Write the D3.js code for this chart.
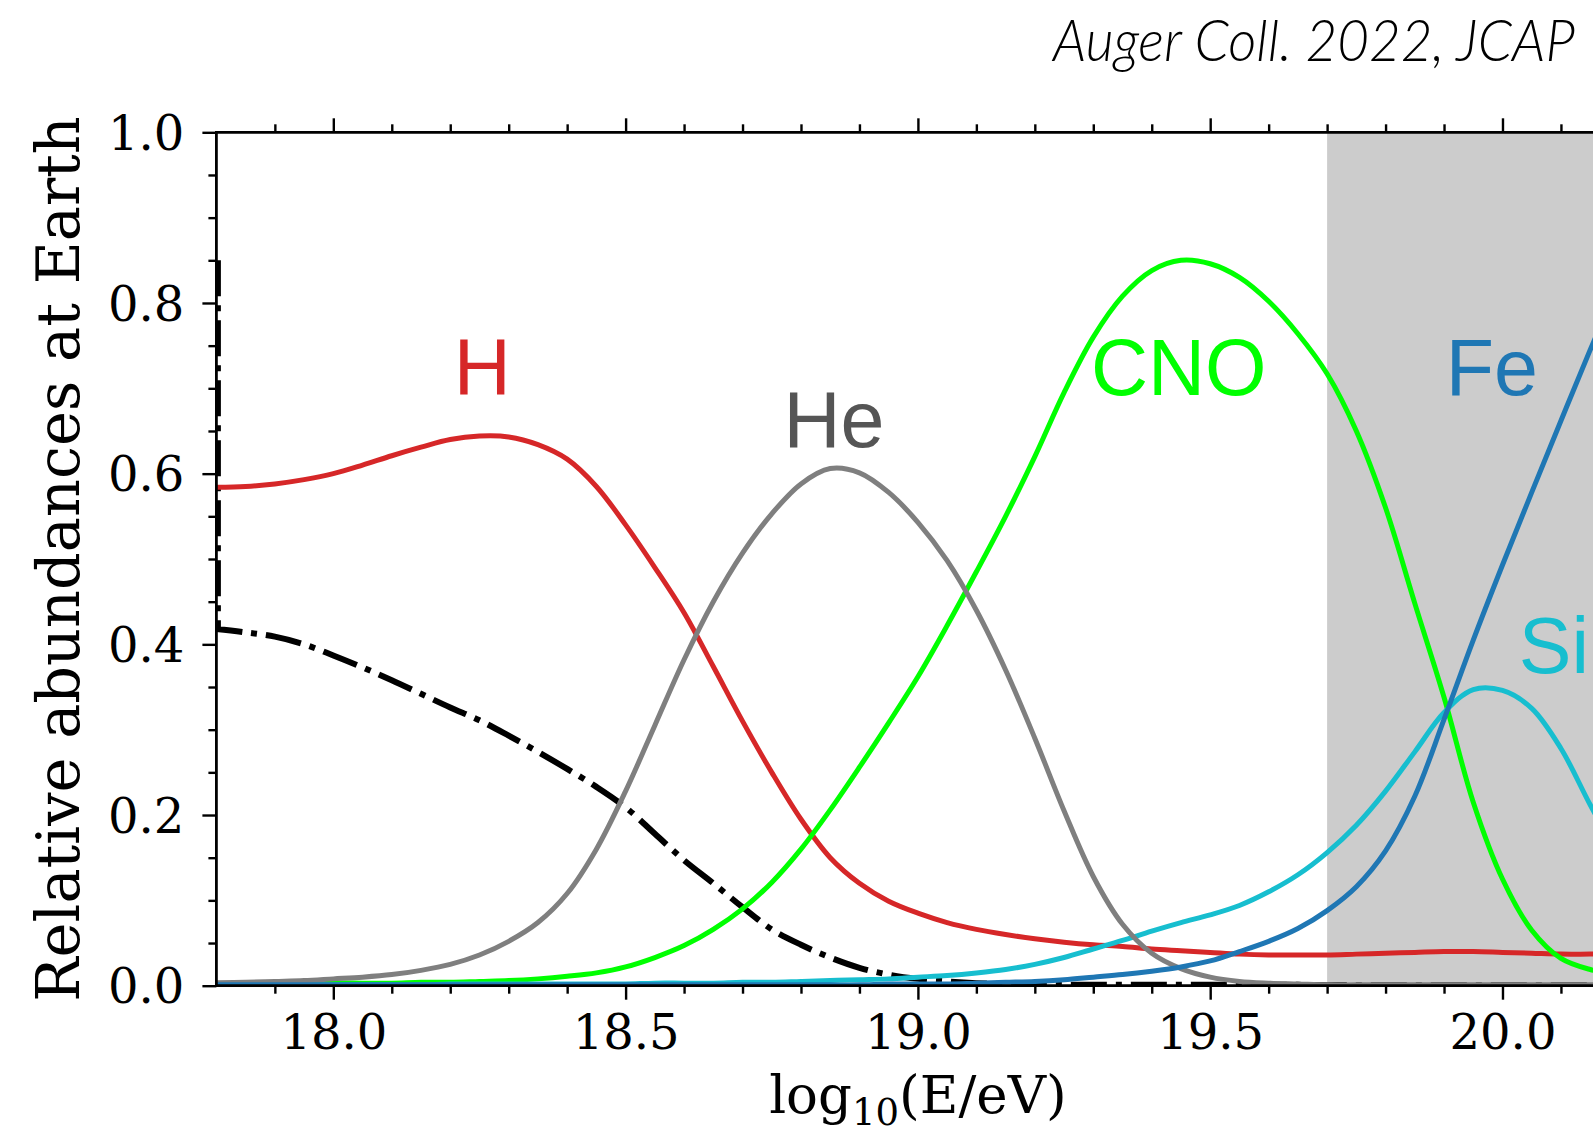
<!DOCTYPE html>
<html>
<head>
<meta charset="utf-8">
<script src="https://cdn.jsdelivr.net/npm/d3@7"></script>
<style>
  html, body { margin: 0; padding: 0; background: #ffffff; }
  svg { display: block; }
</style>
</head>
<body>
<svg id="chart" width="1593" height="1133"></svg>
<script>
// Energy grid, log10(E/eV)
const energies = [
  17.80, 17.85, 17.90, 17.95, 18.00, 18.05, 18.10, 18.15, 18.20, 18.25,
  18.30, 18.35, 18.40, 18.45, 18.50, 18.55, 18.60, 18.65, 18.70, 18.75,
  18.80, 18.85, 18.90, 18.95, 19.00, 19.05, 19.10, 19.15, 19.20, 19.25,
  19.30, 19.35, 19.40, 19.45, 19.50, 19.55, 19.60, 19.65, 19.70, 19.75,
  19.80, 19.85, 19.90, 19.95, 20.00, 20.05, 20.10, 20.15, 20.20
];

// Relative abundances at Earth for each mass group
const hValues = [
  0.584, 0.585, 0.588, 0.593, 0.600, 0.610, 0.621, 0.631, 0.640, 0.644,
  0.643, 0.634, 0.617, 0.585, 0.540, 0.490, 0.437, 0.374, 0.310, 0.250,
  0.195, 0.150, 0.120, 0.099, 0.085, 0.074, 0.066, 0.060, 0.055, 0.051,
  0.048, 0.046, 0.043, 0.041, 0.039, 0.037, 0.036, 0.036, 0.036, 0.037,
  0.038, 0.039, 0.040, 0.040, 0.039, 0.038, 0.037, 0.037, 0.037
];
const heValues = [
  0.0035, 0.004, 0.005, 0.006, 0.008, 0.010, 0.013, 0.018, 0.025, 0.036,
  0.052, 0.074, 0.108, 0.160, 0.228, 0.305, 0.382, 0.450, 0.507, 0.553,
  0.588, 0.606, 0.601, 0.578, 0.543, 0.498, 0.440, 0.370, 0.290, 0.205,
  0.128, 0.072, 0.038, 0.020, 0.010, 0.005, 0.003, 0.002, 0.001, 0.001,
  0.001, 0.001, 0.001, 0.001, 0.001, 0.001, 0.001, 0.001, 0.001
];
const cnoValues = [
  0.002, 0.002, 0.002, 0.002, 0.003, 0.003, 0.003, 0.004, 0.004, 0.005,
  0.006, 0.008, 0.011, 0.015, 0.022, 0.033, 0.047, 0.066, 0.090, 0.121,
  0.160, 0.206, 0.256, 0.308, 0.362, 0.422, 0.485, 0.550, 0.620, 0.695,
  0.760, 0.808, 0.838, 0.850, 0.846, 0.830, 0.802, 0.764, 0.717, 0.650,
  0.560, 0.448, 0.338, 0.215, 0.125, 0.065, 0.032, 0.019, 0.013
];
const siValues = [
  0.001, 0.001, 0.001, 0.001, 0.001, 0.001, 0.001, 0.001, 0.002, 0.002,
  0.002, 0.002, 0.002, 0.002, 0.002, 0.003, 0.003, 0.003, 0.004, 0.004,
  0.005, 0.006, 0.007, 0.008, 0.010, 0.012, 0.015, 0.019, 0.025, 0.033,
  0.043, 0.053, 0.064, 0.074, 0.083, 0.094, 0.110, 0.130, 0.156, 0.188,
  0.228, 0.274, 0.320, 0.347, 0.346, 0.325, 0.278, 0.212, 0.150
];
const feValues = [
  0.001, 0.001, 0.001, 0.001, 0.001, 0.001, 0.001, 0.001, 0.001, 0.001,
  0.001, 0.001, 0.001, 0.001, 0.001, 0.001, 0.001, 0.001, 0.001, 0.001,
  0.001, 0.001, 0.001, 0.002, 0.002, 0.002, 0.003, 0.004, 0.005, 0.007,
  0.010, 0.013, 0.017, 0.022, 0.029, 0.040, 0.052, 0.067, 0.088, 0.116,
  0.158, 0.222, 0.312, 0.405, 0.493, 0.578, 0.662, 0.745, 0.825
];
// Black dash-dot curve; it starts with a vertical drop at the left edge
const dashTop = 0.85;
const dashValues = [
  0.418, 0.414, 0.409, 0.400, 0.387, 0.373, 0.358, 0.342, 0.326, 0.311,
  0.293, 0.274, 0.254, 0.233, 0.209, 0.178, 0.147, 0.120, 0.092, 0.066,
  0.048, 0.033, 0.021, 0.013, 0.008, 0.005, 0.003, 0.002, 0.001, 0.001,
  0.001, 0.001, 0.001, 0.001, 0.001, 0.001, 0.001, 0.001, 0.0005, 0.0005,
  0.0005, 0.0005, 0.0005, 0.0005, 0.0005, 0.0005, 0.0005, 0.0005, 0.0005
];

const seriesNames  = ["H", "CNO", "Si", "He", "Fe"];
const seriesValues = [hValues, cnoValues, siValues, heValues, feValues];
const seriesColors = ["#d62728", "#00ff00", "#17becf", "#7f7f7f", "#1f77b4"];

// Element labels: name, anchor energy, anchor abundance (text baseline), colour
const labelNames  = ["H", "He", "CNO", "Fe", "Si"];
const labelEnergy = [18.206, 18.770, 19.296, 19.903, 20.028];
const labelLevel  = [0.693, 0.631, 0.692, 0.692, 0.367];
const labelColors = ["#d62728", "#555555", "#00ff00", "#1f77b4", "#17becf"];

// Shaded energy band
const bandStart = 19.7;

// Ticks
const xMajor = [18.0, 18.5, 19.0, 19.5, 20.0];
const xMajorLabels = ["18.0", "18.5", "19.0", "19.5", "20.0"];
const xMinor = [17.9, 18.1, 18.2, 18.3, 18.4, 18.6, 18.7, 18.8, 18.9,
                19.1, 19.2, 19.3, 19.4, 19.6, 19.7, 19.8, 19.9, 20.1];
const yMajor = [0.0, 0.2, 0.4, 0.6, 0.8, 1.0];
const yMajorLabels = ["0.0", "0.2", "0.4", "0.6", "0.8", "1.0"];
const yMinor = [0.05, 0.10, 0.15, 0.25, 0.30, 0.35, 0.45, 0.50, 0.55,
                0.65, 0.70, 0.75, 0.85, 0.90, 0.95];

// ---- layout ----
const svg = d3.select("#chart");
const W = 1593, H = 1133;
const plot = { left: 216.4, right: 1619.4, top: 132.3, bottom: 985.7 };

svg.append("rect").attr("width", W).attr("height", H).attr("fill", "#ffffff");

const x = d3.scaleLinear().domain([17.8, 20.2]).range([plot.left, plot.right]);
const y = d3.scaleLinear().domain([0, 1]).range([plot.bottom, plot.top]);

const serif = "'DejaVu Serif', 'Liberation Serif', serif";
const sans = "'Liberation Sans', Arial, sans-serif";

svg.append("defs").append("clipPath").attr("id", "plotClip")
  .append("rect")
  .attr("x", plot.left).attr("y", plot.top)
  .attr("width", plot.right - plot.left).attr("height", plot.bottom - plot.top);

// shaded band
svg.append("rect")
  .attr("x", x(bandStart)).attr("y", y(1))
  .attr("width", x(20.2) - x(bandStart)).attr("height", y(0) - y(1))
  .attr("fill", "#cccccc");

const curves = svg.append("g").attr("clip-path", "url(#plotClip)");

const line = d3.line()
  .x((d, i) => x(energies[i]))
  .y(d => y(d))
  .curve(d3.curveCatmullRom.alpha(0.5));

// dash-dot curve: vertical drop followed by the smooth decline
const dashX0 = x(17.8) + 1.5;
const dashPath = `M${dashX0},${y(dashTop)}L${dashX0},${y(dashValues[0])}` +
  line(dashValues).replace(/^M/, "L");
curves.append("path")
  .attr("d", dashPath)
  .attr("fill", "none")
  .attr("stroke", "#000000")
  .attr("stroke-width", 6)
  .attr("stroke-dasharray", "36,9,6,9");

seriesValues.forEach((vals, k) => {
  curves.append("path")
    .attr("class", "series-" + seriesNames[k])
    .attr("d", line(vals))
    .attr("fill", "none")
    .attr("stroke", seriesColors[k])
    .attr("stroke-width", 5)
    .attr("stroke-linejoin", "round");
});

// ---- axes ----
function styleAxis(g) {
  g.select(".domain").remove();
  g.selectAll(".tick line").attr("stroke", "#000").attr("stroke-width", 2.4);
  g.selectAll(".tick text")
    .attr("fill", "#000")
    .style("font-family", serif)
    .style("font-size", "48px");
}

// bottom
svg.append("g").attr("transform", `translate(0,${plot.bottom})`)
  .call(d3.axisBottom(x).tickValues(xMinor).tickSize(8).tickFormat(""))
  .call(styleAxis);
svg.append("g").attr("transform", `translate(0,${plot.bottom})`)
  .call(d3.axisBottom(x).tickValues(xMajor).tickSize(14).tickPadding(15)
        .tickFormat((d, i) => xMajorLabels[i]))
  .call(styleAxis);
// top
svg.append("g").attr("transform", `translate(0,${plot.top})`)
  .call(d3.axisTop(x).tickValues(xMinor).tickSize(8).tickFormat(""))
  .call(styleAxis);
svg.append("g").attr("transform", `translate(0,${plot.top})`)
  .call(d3.axisTop(x).tickValues(xMajor).tickSize(14).tickFormat(""))
  .call(styleAxis);
// left
svg.append("g").attr("transform", `translate(${plot.left},0)`)
  .call(d3.axisLeft(y).tickValues(yMinor).tickSize(8).tickFormat(""))
  .call(styleAxis);
const yAxisG = svg.append("g").attr("transform", `translate(${plot.left},0)`)
  .call(d3.axisLeft(y).tickValues(yMajor).tickSize(14).tickPadding(18)
        .tickFormat((d, i) => yMajorLabels[i]))
  .call(styleAxis);
yAxisG.selectAll(".tick text").attr("dy", "0.36em");

// spines
const spines = svg.append("g").attr("stroke", "#000").attr("stroke-width", 2.8)
  .attr("stroke-linecap", "square");
spines.append("line").attr("x1", plot.left).attr("x2", plot.left)
  .attr("y1", plot.top).attr("y2", plot.bottom);
spines.append("line").attr("x1", plot.left).attr("x2", plot.right)
  .attr("y1", plot.top).attr("y2", plot.top);
spines.append("line").attr("x1", plot.left).attr("x2", plot.right)
  .attr("y1", plot.bottom).attr("y2", plot.bottom);

// axis titles
const xTitle = svg.append("text")
  .attr("x", (plot.left + plot.right) / 2)
  .attr("y", 1113)
  .attr("text-anchor", "middle")
  .style("font-family", serif)
  .style("font-size", "53px")
  .attr("fill", "#000");
xTitle.append("tspan").text("log");
xTitle.append("tspan").attr("dy", 12).style("font-size", "37px").text("10");
xTitle.append("tspan").attr("dy", -12).text("(E/eV)");

svg.append("text")
  .attr("transform", `translate(79,${(plot.top + plot.bottom) / 2}) rotate(-90)`)
  .attr("text-anchor", "middle")
  .style("font-family", serif)
  .style("font-size", "59px")
  .attr("fill", "#000")
  .text("Relative abundances at Earth");

// element labels
labelNames.forEach((name, i) => {
  svg.append("text")
    .attr("x", x(labelEnergy[i]))
    .attr("y", y(labelLevel[i]))
    .style("font-family", sans)
    .style("font-size", "79px")
    .attr("fill", labelColors[i])
    .text(name);
});

// reference note, top right: a condensed light italic, squeezed horizontally
const note = svg.append("text")
  .attr("x", 0)
  .attr("y", 0)
  .style("font-family", "Lato, 'Open Sans', sans-serif")
  .style("font-weight", 300)
  .style("font-style", "italic")
  .style("font-size", "58px")
  .attr("fill", "#000")
  .text("Auger Coll. 2022, JCAP");
const noteWidth = note.node().getComputedTextLength();
const noteTarget = 522;
note.attr("transform", `translate(1053,61) scale(${noteTarget / noteWidth},1)`);
</script>
</body>
</html>
